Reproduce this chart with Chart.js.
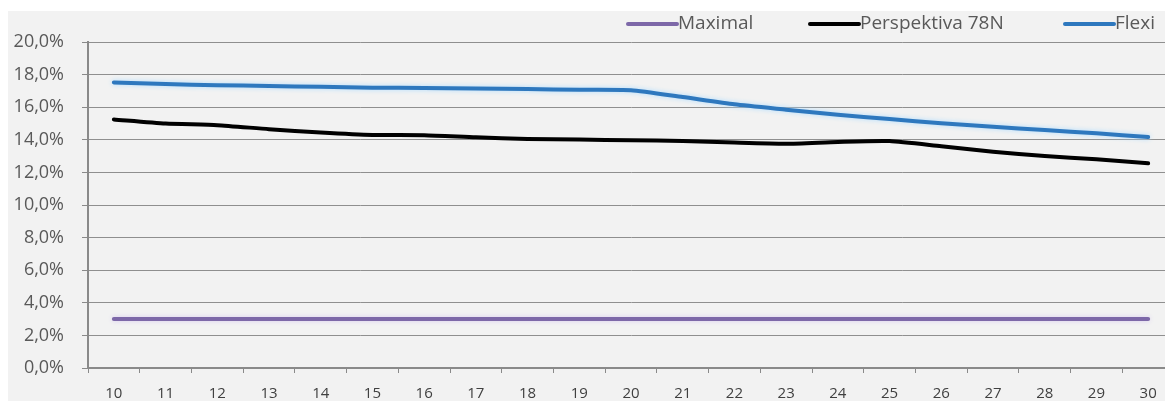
<!DOCTYPE html>
<html>
<head>
<meta charset="utf-8">
<script src="https://cdn.jsdelivr.net/npm/chart.js@4.4.1/dist/chart.umd.min.js"></script>
<style>
  html, body { margin: 0; padding: 0; background: #ffffff; overflow: hidden; }
  #wrap { width: 1174px; height: 401px; }
</style>
</head>
<body>
<div id="wrap"><canvas id="c" width="1174" height="401"></canvas></div>
<script>
// ---- data ----
const categories = ['10','11','12','13','14','15','16','17','18','19','20','21','22','23','24','25','26','27','28','29','30'];
const maximalValues = [3.0, 3.0, 3.0, 3.0, 3.0, 3.0, 3.0, 3.0, 3.0, 3.0, 3.0, 3.0, 3.0, 3.0, 3.0, 3.0, 3.0, 3.0, 3.0, 3.0, 3.0];
const perspektivaValues = [15.25, 15.0, 14.9, 14.65, 14.45, 14.3, 14.28, 14.15, 14.05, 14.02, 13.97, 13.93, 13.83, 13.76, 13.87, 13.92, 13.6, 13.27, 13.0, 12.8, 12.56];
const flexiValues = [17.52, 17.42, 17.35, 17.3, 17.25, 17.2, 17.18, 17.14, 17.11, 17.07, 17.04, 16.62, 16.18, 15.85, 15.53, 15.27, 15.01, 14.8, 14.6, 14.4, 14.17];
const seriesNames = ['Maximal', 'Perspektiva 78N', 'Flexi'];
const yTickValues = [0, 2, 4, 6, 8, 10, 12, 14, 16, 18, 20];

const FONT = "'Open Sans', 'DejaVu Sans', sans-serif";

const bgPlugin = {
  id: 'bg',
  beforeDraw(chart) {
    const ctx = chart.ctx;
    ctx.save();
    ctx.fillStyle = '#ffffff';
    ctx.fillRect(0, 0, chart.width, chart.height);
    ctx.fillStyle = '#f2f2f2';
    ctx.fillRect(8, 11, chart.width - 8, chart.height - 11);
    ctx.restore();
  }
};

const haloPlugin = {
  id: 'halo',
  beforeDatasetDraw(chart, args) {
    const ds = chart.data.datasets[args.index];
    if (ds.haloColor) {
      chart.ctx.save();
      chart.ctx.shadowColor = ds.haloColor;
      chart.ctx.shadowBlur = 5;
    }
  },
  afterDatasetDraw(chart, args) {
    const ds = chart.data.datasets[args.index];
    if (ds.haloColor) chart.ctx.restore();
  }
};

const legendPlugin = {
  id: 'customLegend',
  afterDraw(chart) {
    const ctx = chart.ctx;
    const starts = [628, 810, 1065];
    const lineLen = 49;
    const y = 24;
    ctx.save();
    ctx.font = '19px ' + FONT;
    ctx.textBaseline = 'middle';
    chart.data.datasets.forEach((ds, i) => {
      const x0 = starts[i];
      ctx.strokeStyle = ds.borderColor;
      ctx.lineWidth = 4;
      ctx.lineCap = 'round';
      ctx.beginPath();
      ctx.moveTo(x0, y);
      ctx.lineTo(x0 + lineLen, y);
      ctx.stroke();
      ctx.fillStyle = '#595959';
      ctx.fillText(ds.label, x0 + lineLen + 1, y);
    });
    ctx.restore();
  }
};

new Chart(document.getElementById('c'), {
  type: 'line',
  data: {
    labels: categories,
    datasets: [
      { label: seriesNames[0], data: maximalValues, borderColor: '#7d68a8', haloColor: '#d8cdef' },
      { label: seriesNames[1], data: perspektivaValues, borderColor: '#000000' },
      { label: seriesNames[2], data: flexiValues, borderColor: '#2e78be', haloColor: '#aedcff' }
    ]
  },
  options: {
    responsive: false,
    animation: false,
    layout: { padding: { top: 42, right: 0, bottom: 0, left: 0 } },
    elements: {
      point: { radius: 0 },
      line: { borderWidth: 4, tension: 0.2, borderCapStyle: 'round', borderJoinStyle: 'round', fill: false }
    },
    plugins: {
      legend: { display: false },
      tooltip: { enabled: false },
      title: { display: false }
    },
    scales: {
      x: {
        type: 'category',
        offset: true,
        afterFit(scale) { scale.height = 33; },
        border: { display: true, color: '#8a8a8a', width: 2 },
        grid: { display: true, drawOnChartArea: false, drawTicks: true, offset: true, tickLength: 5, color: '#8a8a8a', lineWidth: 1 },
        ticks: { color: '#404040', font: { family: FONT, size: 15 }, padding: 12, maxRotation: 0, autoSkip: false }
      },
      y: {
        min: 0,
        max: 20,
        afterFit(scale) { scale.width = 88; },
        afterBuildTicks(scale) { scale.ticks = yTickValues.map(v => ({ value: v })); },
        border: { display: true, color: '#8a8a8a', width: 2 },
        grid: { color: '#8f8f8f', lineWidth: 1, borderDash: [2, 1], tickLength: 6, tickColor: '#8a8a8a' },
        ticks: {
          color: '#595959',
          font: { family: FONT, size: 18 },
          padding: 18,
          callback: (v) => v.toFixed(1).replace('.', ',') + '%'
        }
      }
    }
  },
  plugins: [bgPlugin, haloPlugin, legendPlugin]
});
</script>
</body>
</html>
